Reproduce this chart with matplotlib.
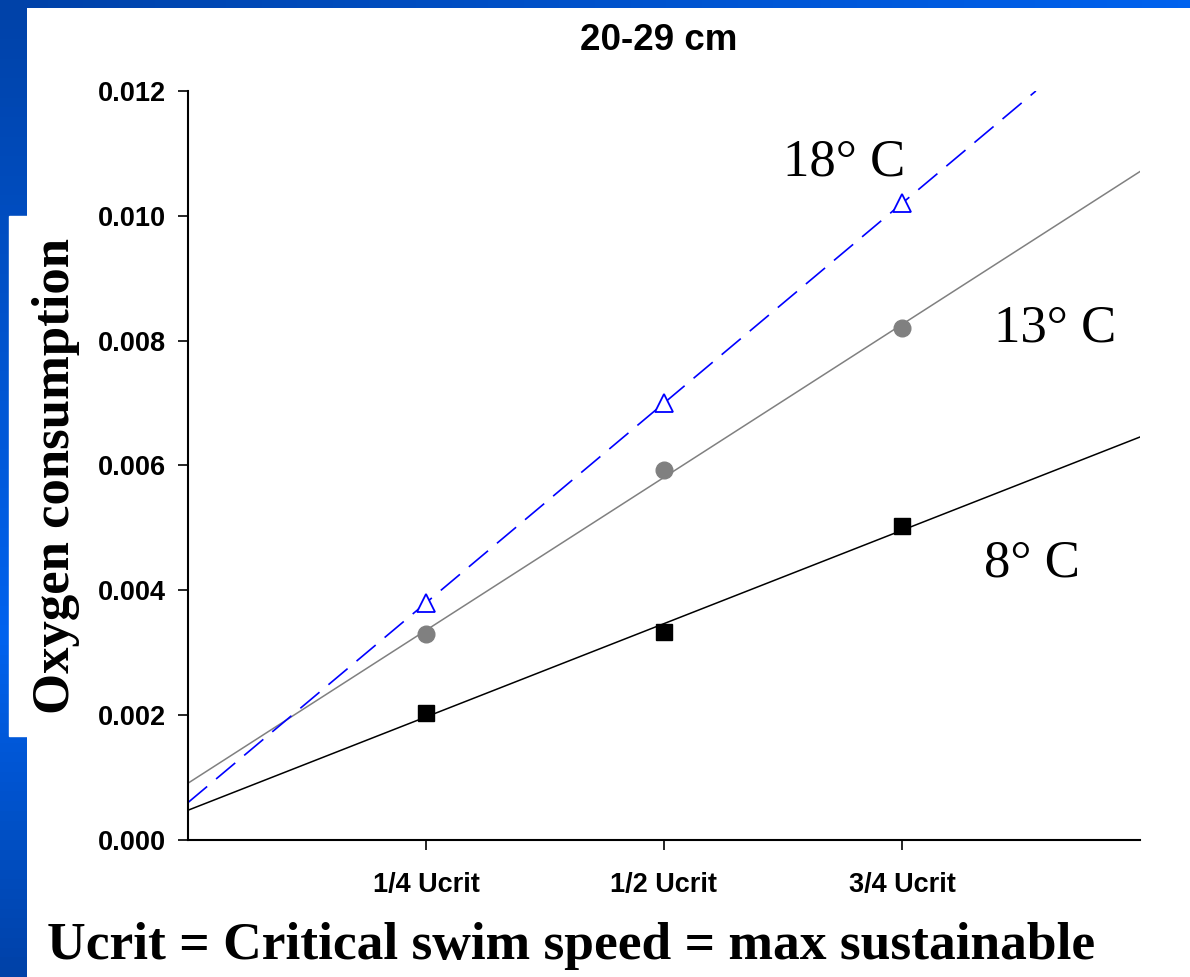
import numpy as np
import matplotlib
matplotlib.use('Agg')
from matplotlib import pyplot as plt

# speed as a fraction of Ucrit
speed = [0.25, 0.5, 0.75]
tick_labels = ['1/4 Ucrit', '1/2 Ucrit', '3/4 Ucrit']
o2_8c = [0.00204, 0.00333, 0.00503]
o2_13c = [0.00330, 0.00593, 0.00820]
o2_18c = [0.00380, 0.00700, 0.01020]
yticks = [0.000, 0.002, 0.004, 0.006, 0.008, 0.010, 0.012]

fig = plt.figure(figsize=(11.9, 9.77), dpi=100)

# slide background: blue strips on top and left
bg = fig.add_axes([0, 0, 1, 1], zorder=-10)
bg.set_xlim(0, 1190)
bg.set_ylim(977, 0)
bg.axis('off')
grad = np.concatenate([np.linspace(0.0, 1.0, 65), np.linspace(1.0, 0.0, 35)])[:, None]
cmap = matplotlib.colors.LinearSegmentedColormap.from_list('slide', ['#0042a8', '#0062ee'])
bg.imshow(grad, cmap=cmap, extent=[0, 27, 977, 0], aspect='auto')
bg.imshow(np.linspace(0, 0.25, 100)[None, :], cmap=cmap, extent=[0, 1190, 8, 0], aspect='auto')
bg.add_patch(plt.Rectangle((9, 216), 71, 520, color='white'))

ax = fig.add_axes([188/1190, 137/977, 952/1190, 749/977])
ax.patch.set_alpha(0)

xx = np.array([0.0, 1.0])
k, b = np.polyfit(speed, o2_8c, 1)
ax.plot(xx, k*xx + b, color='black', lw=1.1)
k, b = np.polyfit(speed, o2_13c, 1)
ax.plot(xx, k*xx + b, color='#808080', lw=1.1)
k, b = np.polyfit(speed, o2_18c, 1)
x18 = np.array([0.0, (0.012 - b) / k])
ax.plot(x18, k*x18 + b, color='blue', lw=1.2, dashes=(15, 7))

ax.plot(speed, o2_8c, 's', color='black', ms=11, ls='none')
ax.plot(speed, o2_13c, 'o', color='#808080', ms=12, ls='none')
ax.plot(speed, o2_18c, '^', mec='blue', mfc='white', mew=1.3, ms=13, ls='none')

serif = ['Liberation Serif', 'DejaVu Serif']
sans = ['Liberation Sans Narrow', 'Liberation Sans', 'DejaVu Sans']
ax.text(0.689, 0.01085, '18° C', family=serif, fontsize=38, ha='center', va='center')
ax.text(0.911, 0.0082, '13° C', family=serif, fontsize=38, ha='center', va='center')
ax.text(0.887, 0.00443, '8° C', family=serif, fontsize=38, ha='center', va='center')

ax.set_xlim(0, 1)
ax.set_ylim(0, 0.012)
ax.set_xticks(speed)
ax.set_xticklabels(tick_labels)
ax.set_yticks(yticks)
ax.set_yticklabels(['%.3f' % v for v in yticks])
for lab in ax.get_xticklabels() + ax.get_yticklabels():
    lab.set_family(sans)
    lab.set_fontweight('bold')
    lab.set_fontsize(19.5)
ax.tick_params(axis='both', direction='out', length=7, width=1.2)
ax.tick_params(axis='y', pad=9)
ax.tick_params(axis='x', pad=16)
ax.spines['top'].set_visible(False)
ax.spines['right'].set_visible(False)
ax.spines['left'].set_linewidth(1.5)
ax.spines['bottom'].set_linewidth(1.5)

fig.text(659/1190, 1 - 41/977, '20-29 cm', family=sans, fontweight='bold', fontsize=26.5, ha='center', va='center')
fig.text(56/1190, 1 - 476/977, 'Oxygen consumption', family=serif, fontweight='bold', fontsize=38, rotation=90, ha='center', va='center')
fig.text(571/1190, 1 - 946/977, 'Ucrit = Critical swim speed = max sustainable', family=serif, fontweight='bold', fontsize=38.5, ha='center', va='center')

fig.savefig('out.png', dpi=100)
